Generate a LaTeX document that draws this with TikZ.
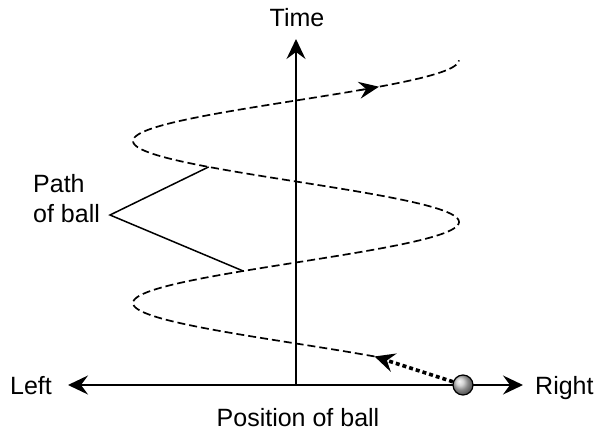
\documentclass[tikz,border=0pt]{standalone}
\usepackage{fontspec}
\setmainfont{Liberation Sans}
\usetikzlibrary{arrows.meta}
\begin{document}
\begin{tikzpicture}[x=1pt,y=-1pt,
  lbl/.style={font=\fontsize{25}{30}\selectfont, inner sep=0pt, anchor=base},
  axis/.style={line width=1.6pt, -{Stealth[length=20pt,width=19pt,inset=7pt]}},
  pathline/.style={line width=1.7pt, dash pattern=on 8pt off 4pt},
  leader/.style={line width=1.5pt},
  ballstyle/.style={circle, draw, line width=1.2pt, minimum size=20pt, inner sep=0pt, shading=ball, ball color=gray!45},
  motion/.style={line width=3.6pt, dash pattern=on 4pt off 3pt, -{Stealth[length=20pt,width=19pt,inset=7pt]}},
  midarrow/.style={line width=1.5pt, -{Stealth[length=20pt,width=17pt,inset=7pt]}}]
\useasboundingbox (0,0) rectangle (603,431);
\coordinate (O) at (296,385);
\coordinate (L) at (68,385);
\coordinate (R) at (523,385);
\coordinate (T) at (296,39);
\draw[axis] (O) -- (L);
\draw[axis] (O) -- (R);
\draw[axis] (O) -- (T);
% path of ball
\draw[pathline] plot[domain=0.17:2, samples=200, smooth] ({296+163*cos(360*\x)}, {384-162*\x});
\coordinate (s) at ({296+163*cos(360*0.17)}, {384-162*0.17});
\coordinate (m0) at ({296+163*cos(360*1.813)}, {384-162*1.813});
\coordinate (m1) at ({296+163*cos(360*1.835)}, {384-162*1.835});
\draw[midarrow] (m0) -- (m1);
% ball
\node[ballstyle] (ball) at (463,385) {};
\draw[motion] (ball) -- (s);
% leader lines
\coordinate (v) at (110,215);
\coordinate (p1) at ({296+163*cos(360*1.34)},{384-162*1.34});
\coordinate (p2) at ({296+163*cos(360*0.6975)},{384-162*0.6975});
\draw[leader] (p1) -- (v) -- (p2);
% labels
\node[lbl] (time) at (297,27) {Time};
\node[lbl, anchor=base west] (left) at (10,394) {Left};
\node[lbl, anchor=base west] (right) at (535,394) {Right};
\node[lbl] (pos) at (298,426) {Position of ball};
\node[lbl, anchor=base west] (path1) at (33,192) {Path};
\node[lbl, anchor=base west] (path2) at (33,222) {of ball};
\end{tikzpicture}
\end{document}
